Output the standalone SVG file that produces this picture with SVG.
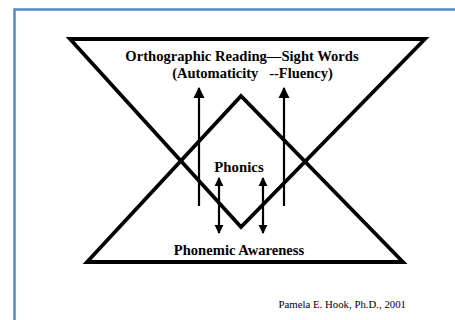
<svg xmlns="http://www.w3.org/2000/svg" width="455" height="320" viewBox="0 0 455 320">
<style>
.tri{fill:none;stroke:#000;stroke-width:3.8;stroke-linejoin:miter}
.ln{stroke:#000;stroke-width:2.2}
.t{font-family:"Liberation Serif","Times New Roman",serif;font-weight:bold;fill:#000;text-anchor:middle}
.c{font-family:"Liberation Serif","Times New Roman",serif;fill:#000;text-anchor:end;font-size:10.8px}
</style>
<defs>
<marker id="ah" viewBox="0 0 10 10" refX="9" refY="5" markerWidth="11" markerHeight="13" markerUnits="userSpaceOnUse" orient="auto-start-reverse">
<path d="M0,0 L10,5 L0,10 z" fill="#000"/>
</marker>
<marker id="ahs" viewBox="0 0 10 10" refX="9" refY="5" markerWidth="9" markerHeight="11" markerUnits="userSpaceOnUse" orient="auto-start-reverse">
<path d="M0,0 L10,5 L0,10 z" fill="#000"/>
</marker>
</defs>
<rect width="455" height="320" fill="#fff"/>
<g id="frame">
<line x1="14" y1="9.5" x2="455" y2="9.5" stroke="#4f8bc6" stroke-width="2.5"/>
<line x1="14.5" y1="8.5" x2="14.5" y2="320" stroke="#4f8bc6" stroke-width="2.5"/>
</g>
<g id="top-triangle">
<polygon class="tri" points="70,39 425,39 241,227"/>
</g>
<g id="bottom-triangle">
<polygon class="tri" points="87,262 403,262 241,96"/>
</g>
<g id="connectors">
<line class="ln" x1="199" y1="206" x2="199" y2="88" marker-end="url(#ah)"/>
<line class="ln" x1="284" y1="206" x2="284" y2="88" marker-end="url(#ah)"/>
<line class="ln" x1="219" y1="178" x2="219" y2="233" marker-start="url(#ahs)" marker-end="url(#ahs)"/>
<line class="ln" x1="263" y1="178" x2="263" y2="233" marker-start="url(#ahs)" marker-end="url(#ahs)"/>
</g>
<g id="orthographic">
<text class="t" x="242" y="61" font-size="14.6">Orthographic Reading—Sight Words</text>
<text class="t" x="252.5" y="78" font-size="14.5" xml:space="preserve">(Automaticity   --Fluency)</text>
</g>
<g id="phonics">
<text class="t" x="239" y="172" font-size="14.8">Phonics</text>
</g>
<g id="phonemic">
<text class="t" x="239" y="255" font-size="14.6">Phonemic Awareness</text>
</g>
<g id="credit">
<text class="c" x="406" y="308">Pamela E. Hook, Ph.D., 2001</text>
</g>
</svg>
